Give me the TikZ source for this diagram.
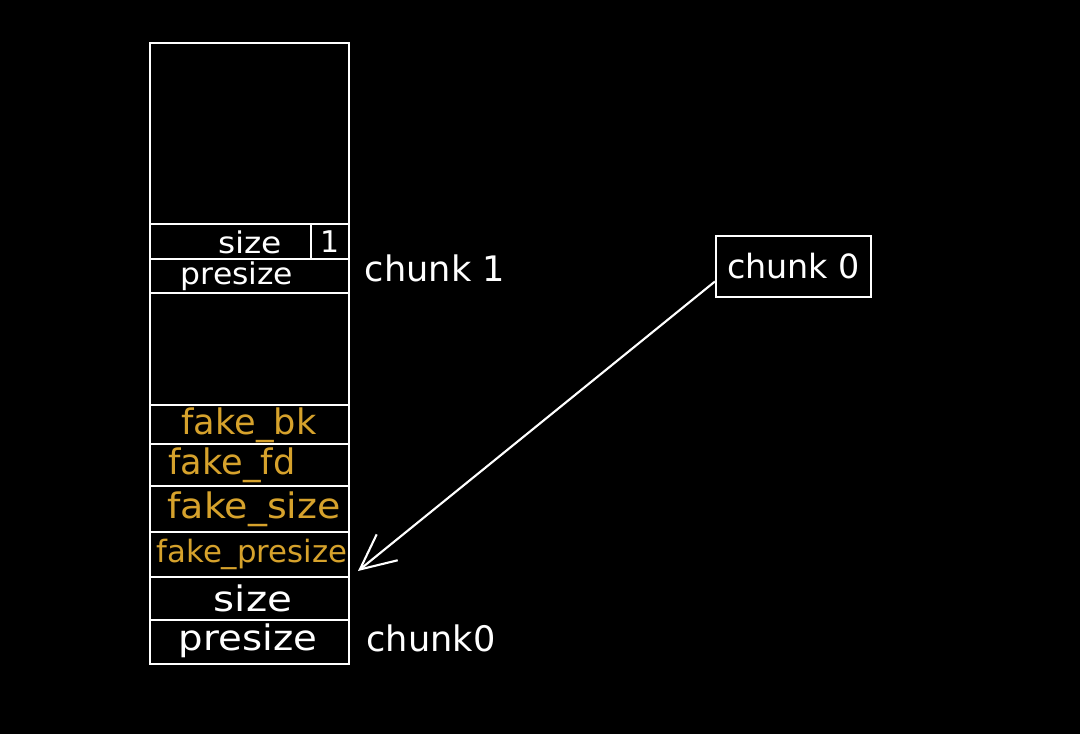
\documentclass[tikz,border=0pt]{standalone}
\usepackage{fontspec}
\setmainfont{DejaVu Sans}
\usetikzlibrary{arrows.meta}
\definecolor{gold}{HTML}{D6A22C}
\tikzset{
  line/.style={draw=white, line width=1.2pt},
  fs/.style={font=\fontsize{#1}{#1}\selectfont},
  wlabel/.style={text=white, fs=20, inner sep=0pt},
  glabel/.style={text=gold, fs=20, inner sep=0pt},
  boxnode/.style={draw=white, line width=1.2pt, minimum width=155*0.02cm, minimum height=61*0.02cm, inner sep=0pt}
}
\begin{document}
\begin{tikzpicture}[x=0.02cm,y=-0.02cm]
\fill[black] (0,0) rectangle (1080,734);
\useasboundingbox (0,0) rectangle (1080,734);
% column
\draw[line] (150,43) rectangle (349,664);
\foreach \yy in {224,259,293,405,444,486,532,577,620} {\draw[line] (150,\yy) -- (349,\yy);}
\draw[line] (311,224) -- (311,259);
% labels
\node[wlabel, fs=17, xscale=1.1] (s1) at (250,242) {size};
\node[wlabel, fs=17] (one) at (330,242) {1};
\node[wlabel, fs=17, xscale=1.05] (p1) at (237,276) {presize};
\node[wlabel] (c1) at (435,268) {chunk 1};
\node[glabel] (fbk) at (249,425) {fake\_bk};
\node[glabel] (ffd) at (232,465) {fake\_fd};
\node[glabel, xscale=1.08] (fsz) at (254,509) {fake\_size};
\node[glabel, fs=17.5] (fps) at (252,554) {fake\_presize};
\node[wlabel, xscale=1.15] (s0) at (253,598) {size};
\node[wlabel, xscale=1.1] (p0) at (248,641) {presize};
\node[wlabel] (c0) at (431,638) {chunk0};
% chunk0 box
\node[boxnode, wlabel, fs=19] (box) at (793.5,266.5) {chunk 0};
\coordinate (tip) at (358,571);
\draw[white, line width=1.2pt, -{Straight Barb[length=20pt,width=19pt]}] ([yshift=-15*0.02cm]box.west) -- (tip);
\end{tikzpicture}
\end{document}
